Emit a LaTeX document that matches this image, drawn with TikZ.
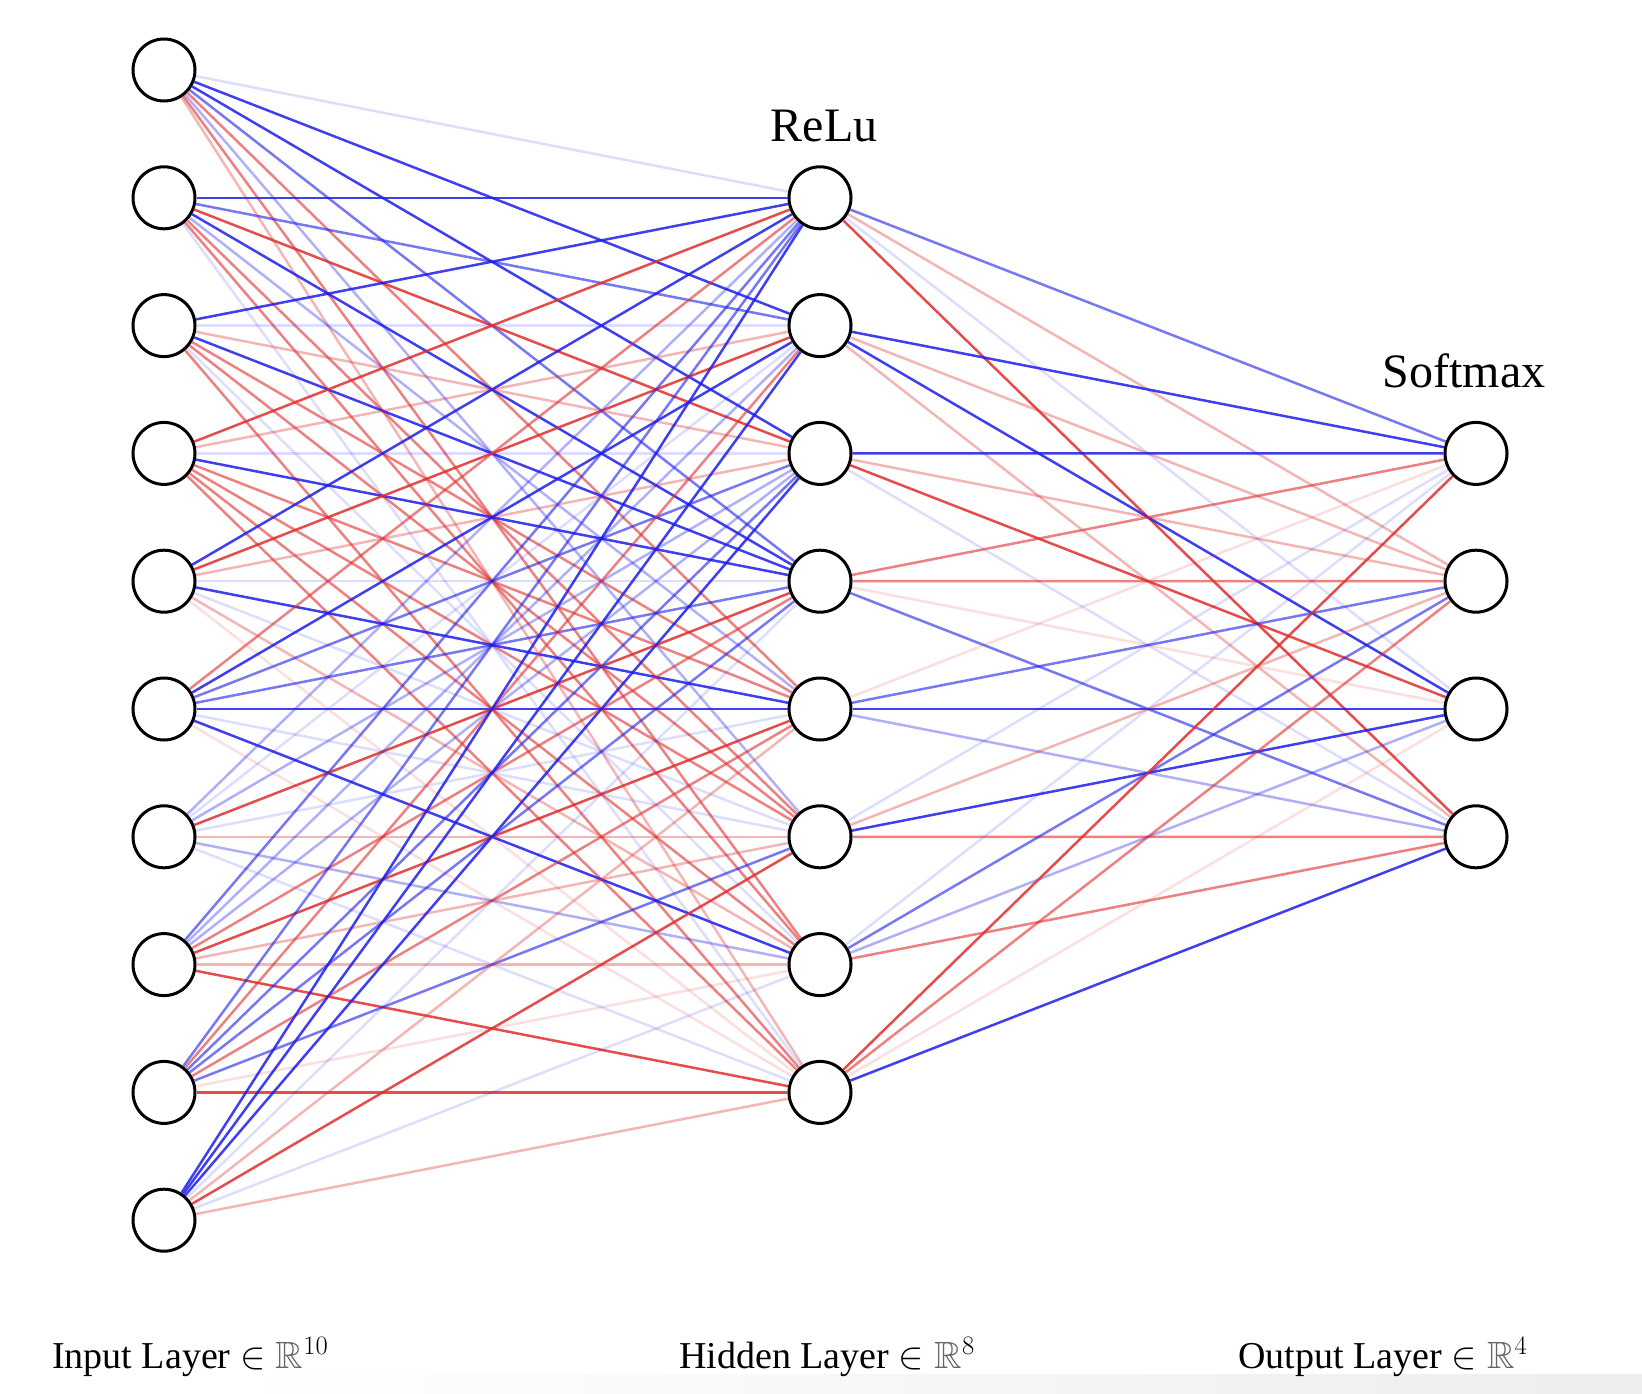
\RequirePackage{fix-cm}
\documentclass[tikz,border=0pt]{standalone}
\usepackage{fontspec}
\setmainfont{Liberation Serif}
\usepackage{amssymb}
\definecolor{eblue}{RGB}{30,30,235}
\definecolor{ered}{RGB}{225,45,45}
\begin{document}
\begin{tikzpicture}[x=1pt,y=-1pt,
  neuron/.style={circle, draw=black, line width=3pt, fill=white, minimum size=62pt, inner sep=0pt},
  edge/.style={line width=2.5pt},
  eBs/.style={edge, draw=eblue, draw opacity=0.85},
  eBm/.style={edge, draw=eblue, draw opacity=0.6},
  eBl/.style={edge, draw=eblue, draw opacity=0.35},
  eBf/.style={edge, draw=eblue, draw opacity=0.15},
  eRs/.style={edge, draw=ered, draw opacity=0.85},
  eRm/.style={edge, draw=ered, draw opacity=0.6},
  eRl/.style={edge, draw=ered, draw opacity=0.35},
  eRf/.style={edge, draw=ered, draw opacity=0.15},
  title/.style={font=\fontsize{48}{56}\selectfont, inner sep=0pt},
  layerlab/.style={font=\fontsize{38}{44}\selectfont, inner sep=0pt, anchor=west}
]
\useasboundingbox (0,0) rectangle (1642,1394);
\fill[white] (0,0) rectangle (1642,1394);
\shade[left color=white, right color=black!7] (230,1374) rectangle (1642,1394);

\foreach \i in {1,...,10} \node[neuron] (I\i) at (164,{70+127.8*(\i-1)}) {};
\foreach \j in {1,...,8} \node[neuron] (H\j) at (820,{197.8+127.8*(\j-1)}) {};
\foreach \k in {1,...,4} \node[neuron] (O\k) at (1476,{453.4+127.8*(\k-1)}) {};

\foreach \i/\j/\s in {
 1/1/eBf, 1/2/eBs, 1/3/eBs, 1/4/eBm, 1/5/eRm, 1/6/eBl, 1/7/eRm, 1/8/eRl,
 2/1/eBs, 2/2/eBm, 2/3/eRs, 2/4/eBs, 2/5/eBl, 2/6/eRm, 2/7/eRm, 2/8/eBf,
 3/1/eBs, 3/2/eBf, 3/3/eRl, 3/4/eBs, 3/5/eRm, 3/6/eRm, 3/7/eBf, 3/8/eRm,
 4/1/eRs, 4/2/eRl, 4/3/eBf, 4/4/eBs, 4/5/eRm, 4/6/eRm, 4/7/eRm, 4/8/eRm,
 5/1/eBs, 5/2/eRs, 5/3/eRl, 5/4/eBf, 5/5/eBs, 5/6/eBf, 5/7/eRl, 5/8/eRf,
 6/1/eRm, 6/2/eBs, 6/3/eBm, 6/4/eBm, 6/5/eBs, 6/6/eBf, 6/7/eBs, 6/8/eRf,
 7/1/eBl, 7/2/eBf, 7/3/eBl, 7/4/eRs, 7/5/eBf, 7/6/eRl, 7/7/eBl, 7/8/eBf,
 8/1/eBm, 8/2/eBl, 8/3/eBl, 8/4/eRm, 8/5/eRs, 8/6/eRl, 8/7/eRl, 8/8/eRs,
 9/1/eBm, 9/2/eRm, 9/3/eBm, 9/4/eBm, 9/5/eRm, 9/6/eBm, 9/7/eRf, 9/8/eRs,
 10/1/eBs, 10/2/eBs, 10/3/eBs, 10/4/eBf, 10/5/eRl, 10/6/eRs, 10/7/eBf, 10/8/eRl}
  \draw[\s] (I\i) -- (H\j);

\foreach \j/\k/\s in {
 1/1/eBm, 1/2/eRl, 1/3/eBf, 1/4/eRs,
 2/1/eBs, 2/2/eRl, 2/3/eBs, 2/4/eRl,
 3/1/eBs, 3/2/eRl, 3/3/eRs, 3/4/eBf,
 4/1/eRm, 4/2/eRm, 4/3/eRf, 4/4/eBm,
 5/1/eRf, 5/2/eBm, 5/3/eBs, 5/4/eBl,
 6/1/eBf, 6/2/eRl, 6/3/eBs, 6/4/eRm,
 7/1/eBf, 7/2/eBm, 7/3/eBl, 7/4/eRm,
 8/1/eRs, 8/2/eRm, 8/3/eRf, 8/4/eBs}
  \draw[\s] (H\j) -- (O\k);

\node[title] (relu) at (824,126) {ReLu};
\node[title] (softmax) at (1464,371) {Softmax};
\node[layerlab] (inlab) at (52,1357) {Input Layer $\in{\color{black!60}\mathbb{R}}^{10}$};
\node[layerlab] (hidlab) at (679,1357) {Hidden Layer $\in{\color{black!60}\mathbb{R}}^{8}$};
\node[layerlab] (outlab) at (1238,1357) {Output Layer $\in{\color{black!60}\mathbb{R}}^{4}$};
\end{tikzpicture}
\end{document}
